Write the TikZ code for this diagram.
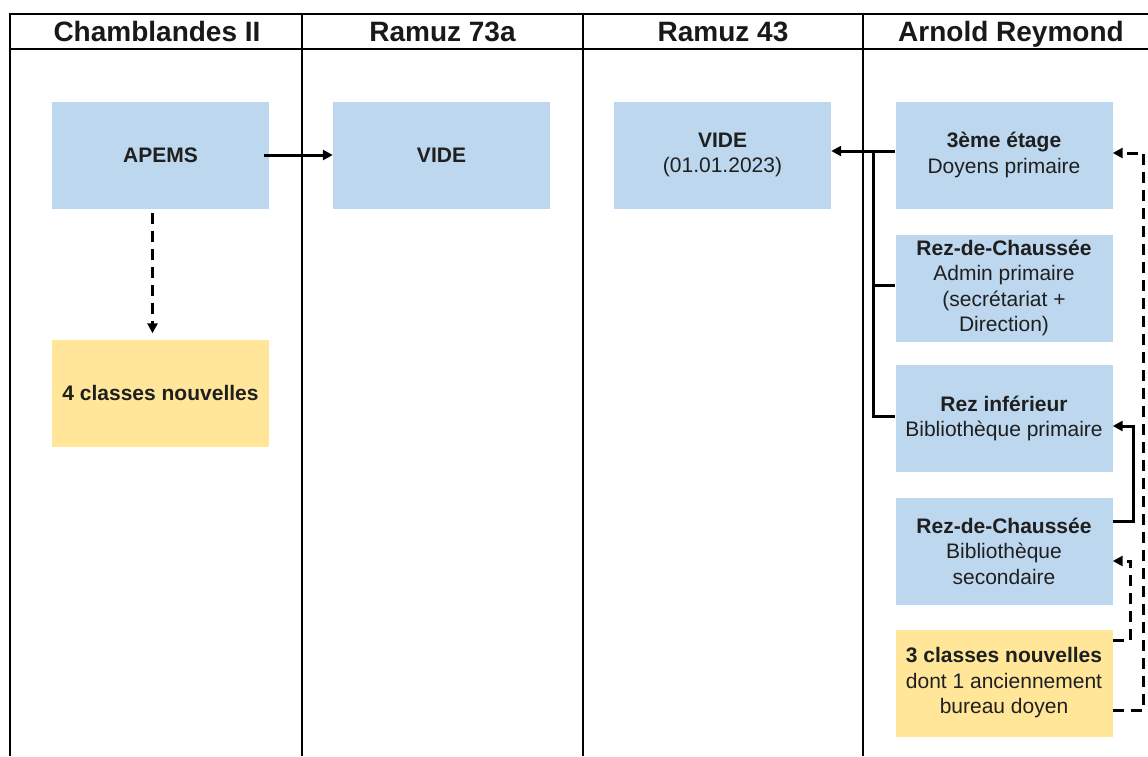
\documentclass[tikz,border=0pt]{standalone}
\usepackage{fontspec}
\setmainfont{Liberation Sans}
\usetikzlibrary{calc,arrows.meta}

\definecolor{bleu}{RGB}{189,215,238}
\definecolor{jaune}{RGB}{255,230,153}
\tikzset{
	salle/.style={fill=bleu,minimum width=217pt,minimum height=107pt,inner sep=0pt,align=center,text=black!88,font=\fontsize{21}{25.5}\selectfont},
	neuf/.style={salle,fill=jaune},
	titre/.style={anchor=base,font=\bfseries\fontsize{28}{30}\selectfont,text=black!90},
	trait/.style={line width=3pt},
	fl/.style={trait,-{Triangle[length=10pt,width=10pt]}},
	fltir/.style={fl,dash pattern=on 11pt off 7pt}
}

\begin{document}
\begin{tikzpicture}[x=1pt,y=-1pt]
	\useasboundingbox (0,0) rectangle (1148,756);
	% tableau
	\draw[line width=1.6pt] (10,756) -- (10,14) -- (1148,14) (10,49) -- (1148,49);
	\foreach \x in {302,583,863} \draw[line width=1.1pt] (\x,14) -- (\x,756);
	\foreach \x/\t [count=\i] in {157/Chamblandes II,442.5/Ramuz 73a,723/Ramuz 43,1011/Arnold Reymond}
		\node[titre] (t\i) at (\x,41.5) {\t};
	% salles
	\node[salle] (apems) at (160.5,155) {\textbf{APEMS}};
	\node[neuf] (cl4) at (160.5,393) {\textbf{4 classes nouvelles}};
	\node[salle] (vide73) at (441.5,155) {\textbf{VIDE}};
	\node[salle] (vide43) at (722.5,155) {\textbf{VIDE}\\(01.01.2023)};
	\node[salle] (etage3) at (1004,155) {\textbf{3ème étage}\\Doyens primaire};
	\node[salle] (rezch) at (1004,288) {\textbf{Rez-de-Chaussée}\\Admin primaire\\(secrétariat +\\Direction)};
	\node[salle] (rezinf) at (1004,418.5) {\textbf{Rez inférieur}\\Bibliothèque primaire};
	\node[salle] (rezbib) at (1004,551) {\textbf{Rez-de-Chaussée}\\Bibliothèque\\secondaire};
	\node[neuf] (cl3) at (1004,683) {\textbf{3 classes nouvelles}\\dont 1 anciennement\\bureau doyen};
	% fleches
	\draw[fl] ([xshift=-5pt]apems.east) -- (vide73.west);
	\draw[fltir] ([xshift=-8pt,yshift=-4pt]apems.south) -- ([xshift=-8pt,yshift=6pt]cl4.north);
	\draw[fl] ([yshift=4pt]etage3.west) -- ([yshift=4pt]vide43.east);
	\coordinate (nd) at (873,151);
	\draw[trait] (nd) |- ([yshift=3pt]rezch.west) (nd) |- ([yshift=2pt]rezinf.west);
	\draw[fl] ([yshift=30pt]rezbib.east) -- ++(21,0) |- ([yshift=-7.5pt]rezinf.east);
	\draw[fltir] ([yshift=43pt]cl3.east) -- ++(18,0) |- ([yshift=-10pt]rezbib.east);
	\draw[fltir] ([yshift=-27pt]cl3.east) -- ++(31,0) |- ([yshift=2pt]etage3.east);
\end{tikzpicture}
\end{document}
